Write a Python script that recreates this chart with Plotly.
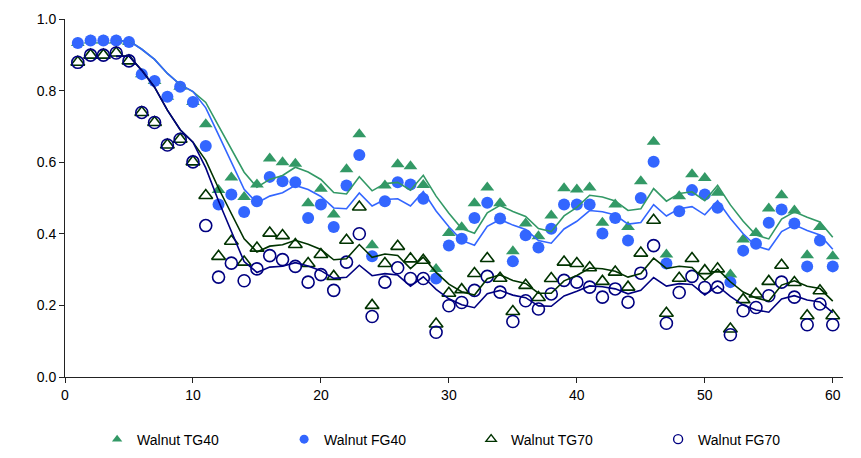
import plotly.graph_objects as go
import pandas as pd

x = list(range(1, 61))

fg40 = [0.933, 0.94, 0.94, 0.94, 0.936, 0.846, 0.827, 0.783, 0.811, 0.768,
        0.645, 0.482, 0.51, 0.461, 0.491, 0.559, 0.547, 0.544, 0.444, 0.482,
        0.419, 0.535, 0.62, 0.337, 0.491, 0.544, 0.538, 0.498, 0.275, 0.367,
        0.386, 0.444, 0.487, 0.443, 0.323, 0.396, 0.362, 0.414, 0.482, 0.482,
        0.482, 0.401, 0.444, 0.381, 0.50, 0.601, 0.317, 0.463, 0.522, 0.51,
        0.473, 0.265, 0.353, 0.372, 0.431, 0.468, 0.429, 0.309, 0.381, 0.309]

tg40 = [0.933, 0.94, 0.94, 0.94, 0.936, 0.846, 0.827, 0.783, 0.811, 0.768,
        0.706, 0.522, 0.557, 0.503, 0.538, 0.61, 0.60, 0.596, 0.485, 0.526,
        0.454, 0.58, 0.678, 0.368, 0.535, 0.594, 0.589, 0.536, 0.302, 0.402,
        0.418, 0.485, 0.529, 0.485, 0.351, 0.429, 0.393, 0.451, 0.527, 0.524,
        0.529, 0.431, 0.482, 0.419, 0.547, 0.657, 0.342, 0.505, 0.566, 0.556,
        0.515, 0.286, 0.384, 0.402, 0.471, 0.508, 0.465, 0.34, 0.419, 0.337]

fg70 = [0.879, 0.899, 0.899, 0.905, 0.883, 0.739, 0.711, 0.648, 0.664, 0.601,
        0.423, 0.279, 0.318, 0.269, 0.302, 0.339, 0.328, 0.309, 0.265, 0.286,
        0.242, 0.321, 0.40, 0.169, 0.265, 0.305, 0.275, 0.275, 0.125, 0.199,
        0.208, 0.242, 0.281, 0.237, 0.155, 0.213, 0.19, 0.232, 0.27, 0.265,
        0.251, 0.223, 0.246, 0.209, 0.29, 0.367, 0.15, 0.236, 0.281, 0.25,
        0.251, 0.118, 0.185, 0.194, 0.227, 0.265, 0.223, 0.146, 0.204, 0.146]

tg70 = [0.879, 0.899, 0.899, 0.905, 0.883, 0.739, 0.711, 0.648, 0.664, 0.601,
        0.507, 0.337, 0.379, 0.321, 0.36, 0.402, 0.395, 0.37, 0.317, 0.342,
        0.281, 0.382, 0.475, 0.20, 0.317, 0.365, 0.33, 0.326, 0.148, 0.234,
        0.244, 0.289, 0.331, 0.276, 0.183, 0.256, 0.222, 0.275, 0.321, 0.317,
        0.305, 0.267, 0.293, 0.251, 0.346, 0.438, 0.178, 0.276, 0.331, 0.297,
        0.302, 0.134, 0.216, 0.232, 0.267, 0.312, 0.264, 0.171, 0.241, 0.171]

names = ["Walnut TG40", "Walnut FG40", "Walnut TG70", "Walnut FG70"]
series = [tg40, fg40, tg70, fg70]
symbols = ["triangle-up", "circle", "triangle-up-open", "circle-open"]
colors = ["#339966", "#3366FF", "#003300", "#000080"]
line_colors = ["#339966", "#3366FF", "#003300", "#000080"]

fig = go.Figure()

for name, vals, sym, col in zip(names, series, symbols, colors):
    open_m = sym.endswith("open")
    fig.add_trace(go.Scatter(
        x=x, y=vals, mode="markers", name=name, showlegend=False,
        marker=dict(symbol=sym, size=12, color=col,
                    line=dict(width=1.6 if open_m else 0, color=col)),
    ))

for name, vals, col in zip(names, series, line_colors):
    ma = pd.Series(vals).rolling(4).mean().tolist()
    fig.add_trace(go.Scatter(
        x=x, y=ma, mode="lines", showlegend=False,
        line=dict(color=col, width=1.6),
    ))

# legend entries
for name, sym, col in zip(names, symbols, colors):
    open_m = sym.endswith("open")
    fig.add_trace(go.Scatter(
        x=[None], y=[None], mode="markers", name=name,
        marker=dict(symbol=sym, size=9, color=col,
                    line=dict(width=1.4 if open_m else 0, color=col)),
    ))

fig.update_layout(
    width=853, height=450,
    margin=dict(l=57, r=18, t=11, b=81, autoexpand=False),
    paper_bgcolor="white", plot_bgcolor="white",
    font=dict(family="Liberation Sans, Arial, sans-serif", size=14, color="black"),
    legend=dict(orientation="h", x=0.522, xanchor="center", y=-0.13, yanchor="top",
                entrywidth=142, entrywidthmode="pixels",
                font=dict(size=14)),
    xaxis=dict(range=[0, 60.8], tickmode="array", tickvals=[0, 10, 20, 30, 40, 50, 60],
               showgrid=False, zeroline=False, showline=True, linecolor="#222",
               linewidth=1, ticks="outside", ticklen=5, tickcolor="#222"),
    yaxis=dict(range=[0, 1.0], tickmode="array", tickvals=[0, 0.2, 0.4, 0.6, 0.8, 1.0],
               tickformat=".1f", showgrid=False, zeroline=False, showline=True,
               linecolor="#222", linewidth=1, ticks="outside", ticklen=5, tickcolor="#222"),
)

fig.write_html("out.html")
